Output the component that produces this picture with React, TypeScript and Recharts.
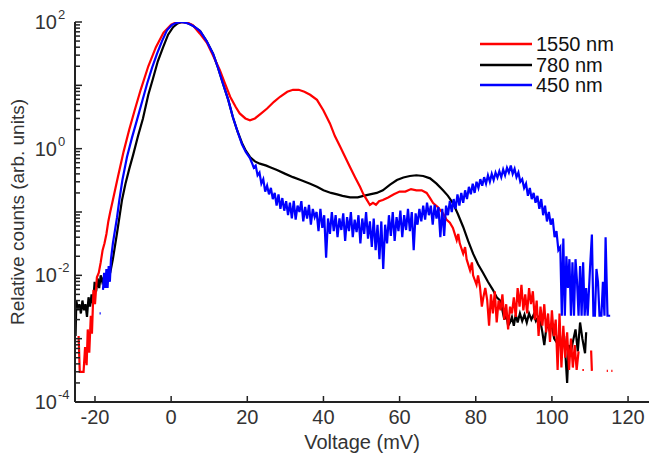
import { LineChart, Line, XAxis, YAxis, Legend, Label } from 'recharts';

// [voltage mV, relative counts]; null = gap (zero counts)
const red1550: [number, number | null][] = [
  [-24.3, 0.0011], [-24.0, 0.0003], [-23.0, 0.0003], [-22.6, 0.00074], [-22.2, 0.00038],
  [-21.9, 0.0014], [-21.5, 0.0006], [-21.1, 0.0023], [-20.8, 0.0012], [-20.4, 0.0059],
  [-20.0, 0.0035], [-19.5, 0.0093], [-19.0, 0.011], [-18.5, 0.016], [-18.0, 0.025],
  [-17.5, 0.032], [-17.0, 0.045], [-16.5, 0.071], [-16.0, 0.1], [-15.3, 0.155],
  [-14.0, 0.355], [-12.5, 0.89], [-11.0, 2.0], [-9.5, 4.2], [-8.0, 8.5], [-6.0, 20],
  [-4.0, 40], [-2.0, 68], [0.0, 91], [1.2, 98], [2.3, 100], [3.4, 99], [4.5, 96], [5.7, 89],
  [7.5, 66], [9.4, 47], [11.0, 29.5], [12.8, 17.4], [14.0, 11.2], [15.5, 6.6], [17.0, 4.5],
  [18.0, 3.6], [19.5, 3.0], [20.7, 2.8], [22.0, 3.0], [23.5, 3.55], [25.2, 4.3], [27.0, 5.5],
  [28.6, 6.6], [30.5, 7.9], [32.0, 8.5], [33.5, 8.5], [35.0, 7.9], [36.5, 7.1], [38.3, 5.9],
  [40.0, 4.0], [41.7, 2.5], [43.0, 1.58], [44.4, 1.07], [45.7, 0.74], [47.0, 0.51],
  [48.3, 0.355], [49.6, 0.25], [50.5, 0.19], [51.4, 0.155], [52.2, 0.129], [53.0, 0.14],
  [53.8, 0.13], [54.6, 0.148], [55.6, 0.155], [57.0, 0.17], [58.5, 0.19], [60.0, 0.21],
  [61.5, 0.21], [63.0, 0.23], [64.4, 0.22], [65.8, 0.22], [67.1, 0.2], [68.0, 0.166],
  [68.8, 0.138], [70.0, 0.12], [71.4, 0.095], [72.3, 0.076], [73.2, 0.068], [74.0, 0.056],
  [75.0, 0.036], [75.4, 0.045], [75.8, 0.032], [76.7, 0.022], [77.2, 0.028], [77.6, 0.018],
  [78.5, 0.012], [79.0, 0.016], [79.3, 0.01], [80.2, 0.0071], [80.6, 0.01], [81.1, 0.0066],
  [81.6, 0.0032], [82.0, 0.0045], [82.5, 0.0063], [83.0, 0.0041], [83.5, 0.0016], [84.0, 0.005],
  [84.5, 0.0025], [85.0, 0.0056], [85.5, 0.0018], [86.0, 0.004], [86.5, 0.0028], [87.0, 0.005],
  [87.5, 0.002], [88.0, 0.0035], [88.5, 0.0014], [89.0, 0.0032], [89.5, 0.0025], [90.0, 0.0045],
  [90.5, 0.0022], [91.0, 0.0063], [91.5, 0.0032], [92.0, 0.0071], [92.5, 0.0028], [93.0, 0.005],
  [93.5, 0.0025], [94.0, 0.0063], [94.5, 0.0035], [95.0, 0.0056], [95.5, 0.002], [96.0, 0.004],
  [96.5, 0.0011], [97.0, 0.0032], [97.5, 0.0016], [98.0, 0.0035], [98.5, 0.00126], [99.0, 0.0025],
  [99.5, 0.00089], [100.0, 0.0028], [100.5, 0.0011], [101.0, 0.002], [101.5, 0.00032],
  [102.0, 0.0025], [102.5, 0.00035], [103.0, 0.0016], [103.5, 0.0005], [104.0, 0.00126],
  [104.5, 0.00032], [105.0, 0.001], [105.5, 0.00035], [106.0, 0.00079], [106.5, 0.00032],
  [107.0, 0.00063], [107.3, null], [108.0, 0.00032], [108.4, 0.00032], [108.6, null],
  [110.3, 0.00065], [110.5, 0.00031], [110.7, null], [114.4, 0.00031], [114.7, 0.00031],
  [114.9, null], [115.6, 0.00031], [115.9, 0.00031],
];

const black780: [number, number | null][] = [
  [-25.1, 0.0011], [-24.9, 0.004], [-24.5, 0.0028], [-24.1, 0.0035], [-23.7, 0.0025],
  [-23.3, 0.004], [-22.9, 0.0028], [-22.5, 0.0035], [-22.1, 0.0022], [-21.7, 0.0045],
  [-21.3, 0.0032], [-20.9, 0.005], [-20.5, 0.0035], [-20.1, 0.0079], [-19.7, 0.0056],
  [-19.3, 0.0089], [-18.9, 0.0063], [-18.5, 0.01], [-18.1, 0.0079], [-17.5, 0.01],
  [-17.0, 0.0098], [-16.0, 0.011], [-15.3, 0.018], [-14.2, 0.047], [-13.5, 0.089],
  [-12.9, 0.155], [-12.0, 0.28], [-11.0, 0.48], [-10.0, 0.79], [-8.7, 1.58], [-7.4, 3.0],
  [-6.0, 7.1], [-4.8, 12.6], [-3.5, 24], [-2.1, 40], [-0.8, 63], [0.5, 83], [1.7, 95],
  [2.9, 100], [4.0, 98], [5.5, 89], [7.6, 72], [9.3, 50], [11.0, 31.6], [12.3, 19],
  [13.6, 10.7], [15.0, 5.9], [16.2, 3.16], [17.4, 1.9], [18.6, 1.23], [19.6, 0.93],
  [20.7, 0.74], [22.0, 0.63], [23.3, 0.58], [25.0, 0.54], [26.0, 0.51], [27.8, 0.46],
  [30.0, 0.4], [32.0, 0.355], [34.0, 0.32], [36.5, 0.28], [38.3, 0.25], [40.0, 0.22],
  [42.0, 0.2], [43.6, 0.19], [45.0, 0.18], [47.0, 0.17], [49.0, 0.17], [50.5, 0.18],
  [52.2, 0.19], [54.0, 0.2], [55.6, 0.22], [57.5, 0.27], [59.3, 0.32], [61.0, 0.35],
  [62.7, 0.37], [64.4, 0.38], [66.2, 0.37], [68.0, 0.34], [69.7, 0.28], [71.4, 0.22],
  [72.7, 0.18], [74.0, 0.138], [75.3, 0.093], [76.7, 0.058], [78.0, 0.035], [79.3, 0.022],
  [80.6, 0.015], [81.9, 0.011], [83.2, 0.0079], [84.5, 0.0059], [85.5, 0.0045], [86.4, 0.004],
  [87.0, 0.0028], [87.5, 0.002], [88.0, 0.0025], [88.5, 0.0016], [89.0, 0.0018], [89.5, 0.0022],
  [90.0, 0.0016], [90.5, 0.0024], [91.0, 0.0018], [91.6, 0.0025], [92.2, 0.0019], [92.8, 0.0024],
  [93.4, 0.0018], [94.0, 0.0025], [94.6, 0.002], [95.2, 0.0024], [95.8, 0.0019], [96.4, 0.0022],
  [96.9, 0.002], [97.5, 0.00126], [98.0, 0.00079], [98.7, 0.0018], [99.3, 0.0014], [100.0, 0.0016],
  [100.6, 0.001], [101.4, 0.00085], [102.0, 0.00126], [102.6, 0.00071], [103.2, 0.0011],
  [103.6, 0.0005], [104.0, 0.0002], [104.4, 0.00079], [105.0, 0.00063], [105.5, 0.00089],
  [106.2, 0.0014], [106.8, 0.00063], [107.4, 0.0018], [108.0, 0.001], [108.7, 0.00059],
  [109.0, 0.00126],
];

const blue450: [number, number | null][] = [
  [-18.8, 0.0025], [-18.5, 0.0025], [-18.3, null],
  [-17.9, 0.0059], [-17.6, 0.011], [-17.3, 0.0063], [-17.0, 0.0126], [-16.7, 0.0063],
  [-16.4, 0.014], [-16.1, 0.0079], [-15.8, 0.018], [-15.3, 0.032], [-14.2, 0.083],
  [-13.6, 0.155], [-12.8, 0.32], [-11.6, 0.74], [-10.3, 1.48], [-9.0, 2.8], [-7.6, 5.6],
  [-6.3, 10.7], [-5.0, 19], [-3.7, 31.6], [-2.4, 50], [-1.1, 74], [0.2, 90], [1.4, 97],
  [2.5, 100], [3.6, 98], [4.8, 93], [6.0, 85], [7.6, 72], [9.3, 50], [11.0, 31.6], [12.3, 19],
  [13.6, 10.7], [15.0, 5.9], [16.2, 3.16], [17.4, 1.9], [18.6, 1.17], [19.6, 0.89], [20.7, 0.71],
  [21.2, 0.6], [21.7, 0.5], [22.2, 0.54], [22.7, 0.38], [23.2, 0.42], [23.7, 0.28], [24.2, 0.33],
  [24.7, 0.21], [25.2, 0.26], [25.7, 0.19], [26.2, 0.24], [26.7, 0.16], [27.2, 0.2], [27.7, 0.126],
  [28.2, 0.19], [28.7, 0.112], [29.2, 0.166], [29.7, 0.105], [30.2, 0.148], [30.7, 0.089],
  [31.2, 0.14], [31.7, 0.079], [32.2, 0.15], [32.7, 0.076], [33.2, 0.126], [33.7, 0.1],
  [34.2, 0.148], [34.7, 0.071], [35.2, 0.12], [35.7, 0.079], [36.2, 0.13], [36.7, 0.063],
  [37.2, 0.112], [37.7, 0.083], [38.2, 0.1], [38.7, 0.05], [39.2, 0.112], [39.7, 0.056],
  [40.2, 0.089], [40.7, 0.019], [41.2, 0.079], [41.7, 0.045], [42.2, 0.1], [42.7, 0.05],
  [43.2, 0.089], [43.7, 0.04], [44.2, 0.079], [44.7, 0.052], [45.2, 0.095], [45.7, 0.035],
  [46.2, 0.083], [46.7, 0.05], [47.2, 0.1], [47.7, 0.04], [48.2, 0.076], [48.7, 0.048],
  [49.2, 0.089], [49.7, 0.032], [50.2, 0.079], [50.7, 0.045], [51.2, 0.1], [51.7, 0.038],
  [52.2, 0.071], [52.7, 0.028], [53.2, 0.079], [53.7, 0.025], [54.2, 0.063], [54.7, 0.018],
  [55.2, 0.071], [55.7, 0.0126], [56.2, 0.063], [56.7, 0.032], [57.2, 0.089], [57.7, 0.042],
  [58.2, 0.1], [58.7, 0.035], [59.2, 0.083], [59.7, 0.05], [60.2, 0.105], [60.7, 0.04],
  [61.2, 0.089], [61.7, 0.052], [62.2, 0.112], [62.7, 0.05], [63.2, 0.1], [63.7, 0.025],
  [64.2, 0.095], [64.7, 0.063], [65.2, 0.112], [65.7, 0.071], [66.2, 0.126], [66.7, 0.076],
  [67.2, 0.14], [67.7, 0.089], [68.2, 0.126], [68.7, 0.063], [69.2, 0.13], [69.7, 0.079],
  [70.2, 0.12], [70.7, 0.04], [71.2, 0.112], [71.7, 0.042], [72.2, 0.126], [72.7, 0.089],
  [73.2, 0.15], [73.7, 0.1], [74.2, 0.16], [74.7, 0.112], [75.2, 0.19], [75.7, 0.126],
  [76.2, 0.2], [76.7, 0.14], [77.2, 0.22], [77.7, 0.16], [78.2, 0.25], [78.7, 0.19],
  [79.2, 0.28], [79.7, 0.2], [80.2, 0.3], [80.7, 0.24], [81.2, 0.33], [81.7, 0.26],
  [82.2, 0.355], [82.7, 0.28], [83.2, 0.38], [83.7, 0.3], [84.2, 0.4], [84.7, 0.32],
  [85.2, 0.42], [85.7, 0.35], [86.2, 0.44], [86.7, 0.355], [87.2, 0.47], [87.7, 0.38],
  [88.2, 0.5], [88.7, 0.42], [89.2, 0.54], [89.7, 0.4], [90.2, 0.48], [90.7, 0.355],
  [91.2, 0.42], [91.7, 0.3], [92.2, 0.33], [92.7, 0.24], [93.2, 0.28], [93.7, 0.18],
  [94.2, 0.24], [94.7, 0.16], [95.2, 0.2], [95.7, 0.14], [96.2, 0.18], [96.7, 0.112],
  [97.2, 0.16], [97.7, 0.089], [98.2, 0.126], [98.7, 0.071], [99.2, 0.1], [99.7, 0.063],
  [100.2, 0.079], [100.7, 0.04], [101.2, 0.05], [101.7, 0.025], [102.2, 0.028], [102.6, 0.0023],
  [103.0, 0.038], [103.4, 0.0023], [103.8, 0.02], [104.2, 0.0063], [104.6, 0.018], [105.0, 0.0023],
  [105.4, 0.016], [105.8, 0.0023], [106.2, 0.018], [106.6, 0.0079], [107.0, 0.0023], [107.4, 0.014],
  [107.8, 0.0023], [108.2, 0.016], [108.6, 0.0023], [109.0, 0.0063], [109.4, 0.0023],
  [110.0, 0.0126], [110.5, 0.044], [110.9, 0.0023], [111.3, 0.0023], [111.7, 0.0126],
  [112.1, 0.0079], [112.5, 0.0023], [113.0, 0.0023], [113.4, 0.0079], [113.8, 0.0023],
  [114.1, 0.04], [114.6, 0.0023], [115.3, 0.0023],
];

const xTicks = [-20, 0, 20, 40, 60, 80, 100, 120];
const decades = [1e-4, 1e-3, 1e-2, 1e-1, 1, 10];
const mantissas = [1, 2, 3, 4, 5, 6, 7, 8, 9];
const labelledExponents = [2, 0, -2, -4];

const series = [
  { name: '1550 nm', color: '#ff0000', data: red1550 },
  { name: '780 nm', color: '#000000', data: black780 },
  { name: '450 nm', color: '#0000ff', data: blue450 },
];
const drawOrder = ['780 nm', '1550 nm', '450 nm'];

const yTicks = [...decades.flatMap((d) => mantissas.map((m) => m * d)), 100];

const FONT = '"Liberation Sans", Arial, Helvetica, sans-serif';

function YTick(props: any) {
  const { x, y, payload } = props;
  const e = Math.log10(payload.value);
  const isMajor = Math.abs(e - Math.round(e)) < 1e-6;
  const exp = Math.round(e);
  return (
    <g>
      <line x1={x} x2={x + (isMajor ? 7 : 5)} y1={y} y2={y} stroke="#222" strokeWidth={1.5} />
      {isMajor && labelledExponents.includes(exp) && (
        <>
          <text x={x - 18} y={y + 7} textAnchor="end" fontSize={20} fontFamily={FONT} fill="#333">
            10
          </text>
          <text x={x - 17} y={y - 3} textAnchor="start" fontSize={13} fontFamily={FONT} fill="#333">
            {exp}
          </text>
        </>
      )}
    </g>
  );
}

function YTitle(props: any) {
  const { viewBox } = props;
  const cy = viewBox.y + viewBox.height / 2;
  return (
    <text
      x={0}
      y={0}
      transform={`translate(24, ${cy}) rotate(-90)`}
      textAnchor="middle"
      fontSize={19}
      fontFamily={FONT}
      fill="#333"
    >
      Relative counts (arb. units)
    </text>
  );
}

function LegendBox() {
  return (
    <div style={{ fontFamily: FONT, fontSize: 20, color: '#111' }}>
      {series.map((s) => (
        <div key={s.name} style={{ display: 'flex', alignItems: 'center', height: 20.5 }}>
          <svg width={56} height={6}>
            <line x1={0} x2={52} y1={3} y2={3} stroke={s.color} strokeWidth={2.5} />
          </svg>
          <span style={{ lineHeight: '20px' }}>{s.name}</span>
        </div>
      ))}
    </div>
  );
}

export default function App() {
  return (
    <div style={{ position: 'absolute', left: 0, top: 0, background: '#fff' }}>
      <LineChart width={650} height={456} margin={{ top: 22, right: 1, bottom: 0, left: 0 }}>
        <XAxis
          type="number"
          dataKey="v"
          domain={[-25.25, 125.5]}
          allowDataOverflow
          ticks={xTicks}
          height={54}
          tickSize={-6}
          tickMargin={14}
          axisLine={{ stroke: '#222', strokeWidth: 2 }}
          tickLine={{ stroke: '#222', strokeWidth: 1.5 }}
          tick={{ fontSize: 20, fontFamily: FONT, fill: '#333' }}
        >
          <Label
            value="Voltage (mV)"
            position="insideBottom"
            offset={7}
            style={{ fontSize: 20, fontFamily: FONT, fill: '#333' }}
          />
        </XAxis>
        <YAxis
          type="number"
          scale="log"
          domain={[1e-4, 100]}
          allowDataOverflow
          ticks={yTicks}
          interval={0}
          width={75}
          tickSize={0}
          tickMargin={0}
          tickLine={false}
          axisLine={{ stroke: '#222', strokeWidth: 2 }}
          tick={<YTick />}
          label={{ content: <YTitle /> }}
        />
        <Legend
          layout="vertical"
          align="center"
          verticalAlign="middle"
          content={<LegendBox />}
          wrapperStyle={{ left: 480, top: 34, width: 160 }}
        />
        {drawOrder.map((name) => {
          const s = series.find((q) => q.name === name)!;
          return (
            <Line
              key={s.name}
              name={s.name}
              data={s.data.map(([v, c]) => ({ v, c }))}
              dataKey="c"
              type="linear"
              stroke={s.color}
              strokeWidth={2.2}
              dot={false}
              activeDot={false}
              isAnimationActive={false}
            />
          );
        })}
      </LineChart>
    </div>
  );
}
